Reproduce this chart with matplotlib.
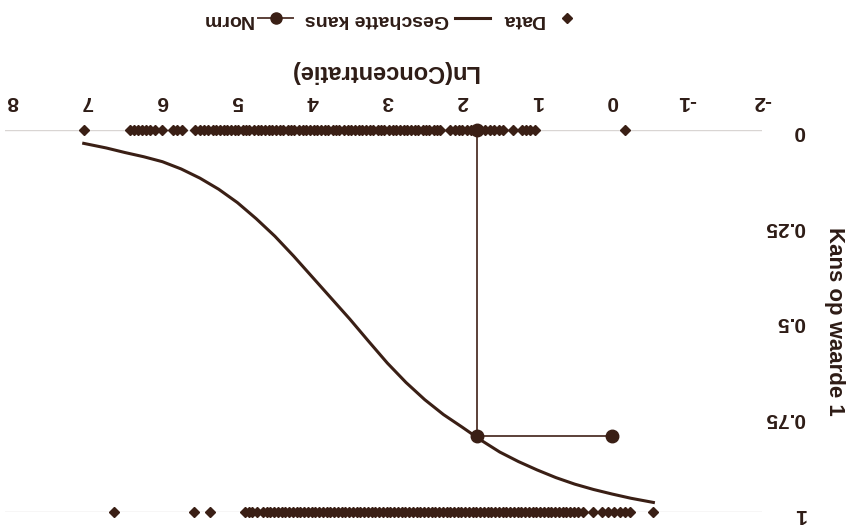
import matplotlib
matplotlib.use("Agg")
import matplotlib.pyplot as plt
from matplotlib.lines import Line2D

# Data (the whole chart is shown rotated 180 degrees, as in the reference scan)
x_ticks = [-2, -1, 0, 1, 2, 3, 4, 5, 6, 7, 8]
y_ticks = [0, 0.25, 0.5, 0.75, 1]
y_tick_labels = ["0", "0.25", "0.5", "0.75", "1"]

# observations with value 0
zero_x = [7.05, 6.43, 6.38, 6.33, 6.27, 6.22, 6.16, 6.10, 6.00, 5.86, 5.80, 5.74,
          5.56, 5.50, 5.44, 5.39, 5.33, 5.29, 5.23, 5.18, 5.14, 5.08, 5.03, 4.99,
          4.93, 4.88, 4.84, 4.78, 4.73, 4.69, 4.63, 4.58, 4.54, 4.48, 4.43, 4.39,
          4.33, 4.28, 4.24, 4.18, 4.13, 4.09, 4.03, 3.98, 3.94, 3.88, 3.83, 3.79,
          3.73, 3.68, 3.64, 3.58, 3.53, 3.49, 3.43, 3.38, 3.34, 3.28, 3.23, 3.19,
          3.13, 3.08, 3.04, 2.98, 2.93, 2.89, 2.83, 2.78, 2.74, 2.68, 2.63, 2.59,
          2.53, 2.48, 2.44, 2.38, 2.34, 2.30, 2.16, 2.10, 2.05, 2.00, 1.94, 1.88,
          1.82, 1.76, 1.70, 1.63, 1.57, 1.51, 1.46, 1.32, 1.20, 1.15, 1.09, 1.03,
          -0.17]
zero_y = [0] * len(zero_x)

# observations with value 1
ones_x = [6.64, 5.58, 5.36, 4.90, 4.85, 4.80, 4.74, 4.66, 4.61, 4.56, 4.51,
          4.46, 4.41, 4.36, 4.31, 4.26, 4.21, 4.16, 4.11, 4.06, 4.01, 3.96,
          3.91, 3.86, 3.81, 3.76, 3.71, 3.66, 3.61, 3.56, 3.51, 3.46, 3.41,
          3.36, 3.31, 3.26, 3.21, 3.16, 3.11, 3.06, 3.01, 2.96, 2.91, 2.86,
          2.81, 2.76, 2.71, 2.66, 2.61, 2.56, 2.51, 2.46, 2.41, 2.36, 2.31,
          2.26, 2.21, 2.16, 2.11, 2.06, 2.01, 1.96, 1.91, 1.86, 1.81, 1.76,
          1.71, 1.66, 1.61, 1.56, 1.51, 1.46, 1.41, 1.36, 1.31, 1.26, 1.21,
          1.16, 1.11, 1.06, 1.01, 0.96, 0.91, 0.86, 0.81, 0.76, 0.71, 0.66,
          0.61, 0.56, 0.51, 0.46, 0.39, 0.25, 0.13, 0.05, -0.03, -0.10, -0.17,
          -0.24, -0.55]
ones_y = [1] * len(ones_x)

# estimated probability curve
curve_x = [7.05, 6.75, 6.5, 6.25, 6.0, 5.75, 5.5, 5.25, 5.0, 4.75, 4.5, 4.25, 4.0,
           3.75, 3.5, 3.25, 3.0, 2.75, 2.5, 2.25, 2.0, 1.75, 1.5, 1.25, 1.0, 0.75,
           0.5, 0.25, 0.0, -0.25, -0.55]
curve_p = [0.035, 0.047, 0.059, 0.070, 0.083, 0.102, 0.126, 0.155, 0.19, 0.232,
           0.278, 0.330, 0.385, 0.440, 0.495, 0.553, 0.61, 0.661, 0.706, 0.745,
           0.778, 0.812, 0.843, 0.868, 0.89, 0.91, 0.927, 0.941, 0.953, 0.964, 0.975]

# norm
norm_x = [0, 1.8, 1.8]
norm_y = [0.8, 0.8, 0]

dark = "#3a1f15"
line_col = "#5b4038"
text_col = "#2e1c16"

plt.rcParams['font.family'] = ['Liberation Sans Narrow', 'Liberation Sans', 'DejaVu Sans']
plt.rcParams['axes.unicode_minus'] = False

fig = plt.figure(figsize=(8.51, 5.28), dpi=100)
ax = fig.add_axes([0.0059, 0.0303, 0.8896, 0.7235])

ax.axhline(0, color="#d9d5d3", lw=1, zorder=0)
ax.axhline(1, color="#d9d5d3", lw=1, zorder=0)

ax.plot(zero_x, zero_y, 'D', color=dark, markersize=5.5, clip_on=False, zorder=3)
ax.plot(ones_x, ones_y, 'D', color=dark, markersize=5.5, clip_on=False, zorder=3)
ax.plot(curve_x, curve_p, '-', color=dark, lw=2.2, zorder=2)
ax.plot(norm_x, norm_y, '-o', color=line_col, lw=1.4, markersize=9,
        markerfacecolor=dark, markeredgecolor=dark, clip_on=False, zorder=4)

# rotated 180 degrees: x runs right-to-left, y top-to-bottom
ax.set_xlim(8.1, -2)
ax.set_ylim(1, 0)
ax.set_xticks(x_ticks)
ax.set_yticks(y_ticks)
ax.set_yticklabels(y_tick_labels)
ax.xaxis.tick_top()
ax.yaxis.tick_right()
ax.tick_params(axis='x', length=0, pad=14, labelsize=15, labelcolor=text_col, labelrotation=180)
ax.tick_params(axis='y', length=0, pad=31, labelsize=15, labelcolor=text_col, labelrotation=180)
for lab in ax.get_xticklabels():
    lab.set_fontweight('bold')
for lab in ax.get_yticklabels():
    lab.set_fontweight('bold')
    lab.set_horizontalalignment('right')
for s in ax.spines.values():
    s.set_visible(False)

ax.xaxis.set_label_position('top')
ax.set_xlabel("Ln(Concentratie)", fontsize=17, color=text_col, rotation=180,
              labelpad=10, fontweight='bold')
ax.yaxis.set_label_position('right')
ax.set_ylabel("Kans op waarde 1", fontsize=16, color=text_col, rotation=270,
              fontweight='bold', family=['Liberation Sans', 'DejaVu Sans'],
              ha='center', va='center')
ax.yaxis.set_label_coords(1.096, 0.5)

handles = [
    Line2D([], [], color=line_col, lw=1.4, marker='o', markersize=8,
           markerfacecolor=dark, markeredgecolor=dark),
    Line2D([], [], color=dark, lw=2.2),
    Line2D([], [], color=dark, lw=0, marker='D', markersize=5),
]
labels = ["Norm", "Geschatte kans", "Data"]
leg = fig.legend(handles, labels, loc='center', bbox_to_anchor=(0.462, 0.963), ncol=3,
                 frameon=False, markerfirst=False, handlelength=1.8,
                 columnspacing=0.6, handletextpad=0.3,
                 prop={'weight': 'bold', 'size': 14})
for t in leg.get_texts():
    t.set_rotation(180)
    t.set_color(text_col)

fig.savefig("out.png", dpi=100)
